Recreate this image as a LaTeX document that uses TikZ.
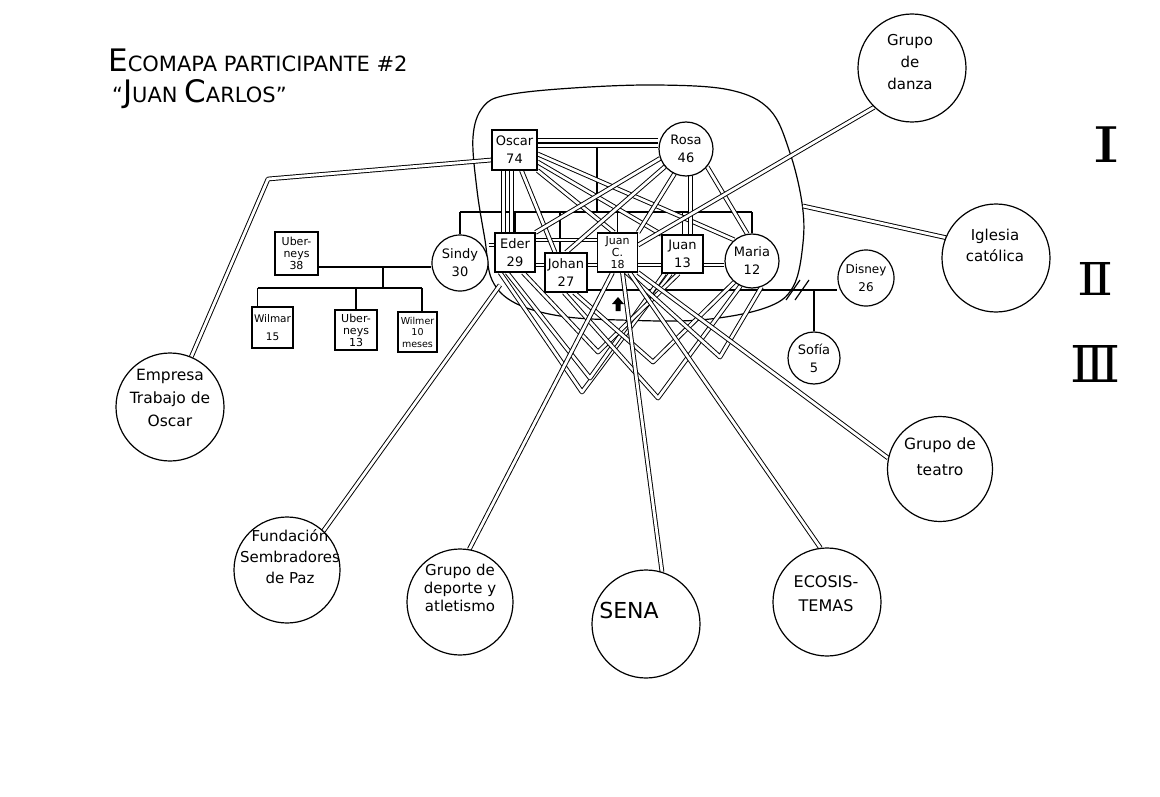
\documentclass[tikz,border=0pt]{standalone}
\usepackage{fontspec}
\usepackage{graphicx}
\setmainfont{DejaVu Sans}
\newfontfamily\romfont{DejaVu Serif}
\usetikzlibrary{backgrounds}
\begin{document}
\begin{tikzpicture}[x=1pt,y=-1pt,
  male/.style={draw,line width=1.2pt,fill=white,rectangle,inner sep=0pt,align=center,font=\fontsize{13}{18}\selectfont},
  female/.style={draw,line width=1.2pt,fill=white,circle,inner sep=0pt,align=center,font=\fontsize{13}{18}\selectfont},
  tri/.style={font=\fontsize{11}{12}\selectfont},
  sys/.style={draw,line width=1.2pt,circle,fill=white,inner sep=0pt},
  systxt/.style={align=center,inner sep=0pt},
  rel/.style={line width=0.95pt,double,double distance=2.8pt,line join=round},
  kin/.style={line width=1.2pt},
]
\useasboundingbox (0,0) rectangle (1160,797);

% ---------- family members ----------
\node[male,minimum width=45pt,minimum height=40pt] (oscar) at (514.5,150) {Oscar\\74};
\node[female,minimum size=54pt] (rosa) at (686,149) {Rosa\\46};
\node[male,minimum width=40pt,minimum height=39pt] (eder) at (515,252.5) {Eder\\29};
\node[male,minimum width=42pt,minimum height=39pt] (johan) at (566,272.5) {Johan\\27};
\node[male,tri,minimum width=40pt,minimum height=39pt] (jc) at (617.5,252.5) {Juan\\C.\\18};
\node[male,minimum width=41pt,minimum height=38pt] (juan) at (682.5,254) {Juan\\13};
\node[female,minimum size=54pt] (maria) at (752,261) {Maria\\12};
\node[female,minimum size=56pt] (sindy) at (460,263) {Sindy\\30};
\node[male,tri,minimum width=43pt,minimum height=43pt] (ub38) at (296.5,253.5) {Uber-\\neys\\38};
\node[male,minimum width=41pt,minimum height=41pt,font=\fontsize{10.5}{18}\selectfont] (wilmar) at (272.5,327.5) {Wilmar\\15};
\node[male,tri,minimum width=42pt,minimum height=40pt] (ub13) at (356,330) {Uber-\\neys\\13};
\node[male,minimum width=39pt,minimum height=40pt,font=\fontsize{9.5}{11.5}\selectfont] (wilmer) at (417.5,332) {Wilmer\\10\\meses};
\node[female,minimum size=56pt,font=\fontsize{12}{18}\selectfont] (disney) at (866,278) {Disney\\26};
\node[female,minimum size=52pt] (sofia) at (814,358) {Sofía\\5};

% ---------- external systems ----------
\node[sys,minimum size=108pt] (dan) at (912,68) {};
\node[sys,minimum size=108pt] (igl) at (996,258) {};
\node[sys,minimum size=108pt] (emp) at (170,407) {};
\node[sys,minimum size=106pt] (fund) at (287,570) {};
\node[sys,minimum size=106pt] (dep) at (460,602) {};
\node[sys,minimum size=108pt] (sena) at (646,624) {};
\node[sys,minimum size=108pt] (eco) at (827,602) {};
\node[sys,minimum size=105pt] (tea) at (940,469) {};

\node[systxt,font=\fontsize{15}{22}\selectfont] (dant) at (910,62) {Grupo\\de\\danza};
\node[systxt,font=\fontsize{15}{21}\selectfont] (iglt) at (995,245) {Iglesia\\católica};
\node[systxt,font=\fontsize{15.5}{23}\selectfont] (empt) at (170,398) {Empresa\\Trabajo de\\Oscar};
\node[systxt,font=\fontsize{15}{21}\selectfont] (fundt) at (290,557) {Fundación\\Sembradores\\de Paz};
\node[systxt,font=\fontsize{15}{18}\selectfont] (dept) at (460,588) {Grupo de\\deporte y\\atletismo};
\node[systxt,font=\fontsize{22}{22}\selectfont] (senat) at (629,610) {SENA};
\node[systxt,font=\fontsize{16}{24}\selectfont] (ecot) at (826,594) {ECOSIS-\\TEMAS};
\node[systxt,font=\fontsize{15.5}{26}\selectfont] (teat) at (940,457) {Grupo de\\teatro};

% ---------- title and levels ----------
\node[anchor=base west,inner sep=0pt] (t1) at (108,72)
  {\fontsize{31}{31}\selectfont E\fontsize{21}{21}\selectfont COMAPA PARTICIPANTE \#2};
\node[anchor=base west,inner sep=0pt] (t2) at (112,103)
  {\fontsize{21}{21}\selectfont “\fontsize{31}{31}\selectfont J\fontsize{21}{21}\selectfont UAN \fontsize{31}{31}\selectfont C\fontsize{21}{21}\selectfont ARLOS”};
\node[inner sep=0pt] (r1) at (1106.5,145) {\scalebox{1.45}[1]{\fontsize{49}{49}\selectfont\romfont Ⅰ}};
\node[inner sep=0pt] (r2) at (1095.5,278.5) {\resizebox{36pt}{33pt}{\romfont Ⅱ}};
\node[inner sep=0pt] (r3) at (1095,363.5) {\resizebox{50pt}{37pt}{\romfont Ⅲ}};

% identified patient arrow
\fill (612,304) -- (618,297) -- (624,304) -- (620.5,304) -- (620.5,311) -- (615.5,311) -- (615.5,304) -- cycle;

% ---------- connectors ----------
\begin{pgfonlayer}{background}
\fill[white] (0,0) rectangle (1160,797);
% household boundary
\draw[kin] plot[smooth cycle,tension=0.6] coordinates {(483,107) (507,95) (573,88) (657,85) (730,90) (770,110) (790,153) (802,203) (803,243) (793,287) (765,308) (700,320) (620,320) (560,316) (515,303) (492,280) (485,240) (477,190) (473,137)};

% marriage Oscar - Rosa (triple)
\draw[line width=0.95pt,double,double distance=7.5pt] ([yshift=7pt]oscar.east) -- ([yshift=7pt]oscar.east -| rosa.west);
\draw[kin] ([yshift=7pt]oscar.east) -- ([yshift=7pt]oscar.east -| rosa.west);
\coordinate (fm) at (597,147);
\coordinate (sib) at (597,212);
\draw[kin] (fm) -- (sib);
\draw[kin] (sindy.north |- sib) -- (maria.north |- sib);
\coordinate (jn) at ([xshift=-6pt]johan.north);
\foreach \n in {sindy,eder,jc,juan,maria} \draw[kin] (\n.north |- sib) -- (\n.north);
\draw[kin] (jn |- sib) -- (jn);

% Uberneys - Sindy family
\coordinate (m1) at (383,267);
\draw[kin] (m1 -| ub38.east) -- (m1 -| sindy.west);
\coordinate (c1) at (383,288);
\draw[kin] (m1) -- (c1);
\coordinate (w1) at ([xshift=-15pt]wilmar.north);
\coordinate (w3) at ([xshift=4.5pt]wilmer.north);
\draw[kin] (w1 |- c1) -- (w3 |- c1);
\draw[kin] (w1 |- c1) -- (w1);
\draw[kin] (ub13.north |- c1) -- (ub13.north);
\draw[kin] (w3 |- c1) -- (w3);

% Johan - Disney (divorced) and Sofia
\coordinate (dv) at (813,290);
\draw[kin] (dv -| johan.east) -- (dv -| disney.west);
\draw[kin] (sofia.north |- dv) -- (sofia.north);
\draw[kin] (786,300) -- (800,280);
\draw[kin] (795,300) -- (809,280);

% relations between siblings
\coordinate (se) at (0,245);
\draw[rel] (se -| sindy.east) -- (se -| eder.west);
\coordinate (ej) at (0,240);
\draw[rel] (ej -| eder.east) -- (ej -| jc.west);
\coordinate (row) at (0,265);
\draw[rel] (row -| eder.east) -- (row -| maria.west);

% Oscar to children
\coordinate (o1) at ([xshift=-11pt]oscar.south);
\coordinate (o2) at ([xshift=-3pt]oscar.south);
\draw[rel] (o1) -- (o1 |- eder.north);
\draw[rel] (o2) -- (o2 |- eder.north);
\coordinate (o3) at ([xshift=7pt]oscar.south);
\coordinate (jn2) at ([xshift=-11pt]johan.north);
\draw[rel] (o3) -- (jn2);
\draw[rel] (oscar.south east) -- (jc.100);
\draw[rel] ([yshift=-12pt]oscar.east) -- (juan.north west);
\draw[rel] ([yshift=-4pt]oscar.east) -- (maria.130);

% Rosa to children
\draw[rel] (rosa.200) -- (eder.north east);
\draw[rel] (rosa.220) -- (johan.north);
\draw[rel] (rosa.245) -- (jc.north east);
\coordinate (rj) at (rosa.-80);
\draw[rel] (rj) -- (rj |- juan.north);
\draw[rel] (rosa.-40) -- (maria.100);

% V-shaped relations below the children
\coordinate (v1) at (582,392);
\coordinate (v6) at (590,378);
\coordinate (v2) at (598,352);
\coordinate (v3) at (658,398);
\coordinate (v4) at (653,362);
\coordinate (v5) at (720,357);
\draw[rel] ([xshift=-15pt]eder.south) -- (v1) -- ([xshift=-12pt]juan.south);
\draw[rel] ([xshift=-8pt]eder.south) -- (v6) -- ([xshift=-18pt]juan.south);
\draw[rel] ([xshift=8pt]eder.south) -- (v2) -- ([xshift=-4pt]juan.south);
\draw[rel] ([xshift=-2pt]johan.south) -- (v3) -- (maria.-115);
\draw[rel] ([xshift=8pt]johan.south) -- (v4) -- (maria.-130);
\draw[rel] ([xshift=9pt]jc.south) -- (v5) -- (maria.-70);

% links to external systems
\coordinate (bend) at (268,179);
\draw[rel] ([yshift=-10pt]oscar.west) -- (bend) -- (emp.67);
\draw[rel] (jc.20) -- (dan.226);
\coordinate (encR) at (803,206);
\draw[rel] (encR) -- (igl.158);
\coordinate (fs) at (500,285);
\draw[rel] (fs) -- (fund.47);
\draw[rel] ([xshift=-5pt]jc.south) -- (dep.80);
\draw[rel] ([xshift=5pt]jc.south) -- (sena.73);
\draw[rel] ([xshift=12pt]jc.south) -- (eco.97);
\draw[rel] (jc.south east) -- (tea.168);
\end{pgfonlayer}
\end{tikzpicture}
\end{document}
